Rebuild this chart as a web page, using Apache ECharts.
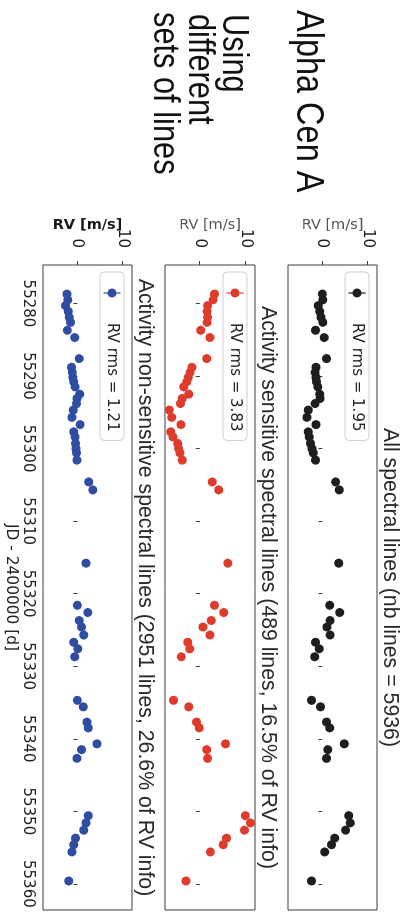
<!DOCTYPE html>
<html>
<head>
<meta charset="utf-8">
<script src="https://cdn.jsdelivr.net/npm/echarts@6/dist/echarts.min.js"></script>
<style>
  html, body { margin: 0; padding: 0; background: #fff; overflow: hidden; width: 406px; height: 921px; }
  /* the figure is laid out landscape and turned a quarter turn clockwise */
  #fig { position: absolute; left: 0; top: 0; width: 921px; height: 406px;
         transform-origin: 0 0; transform: translate(406px, 0) rotate(90deg); }
</style>
</head>
<body>
<div id="fig"></div>
<script>
// Observation epochs, JD - 2400000
const dates = [
  55278.7, 55279.5, 55280.3, 55281.1, 55281.9, 55282.6, 55283.7, 55284.7, 55287.6,
  55288.8, 55289.5, 55290.2, 55290.8, 55291.5, 55292.5, 55293.1, 55293.8, 55294.7,
  55295.7, 55296.7, 55297.7, 55298.4, 55299.3, 55300.0, 55300.6, 55301.6, 55304.6, 55305.7,
  55315.8, 55321.6, 55322.6, 55323.7, 55324.6, 55325.7, 55326.7, 55327.6, 55328.7,
  55334.7, 55335.6, 55337.7, 55338.5, 55340.7, 55341.5, 55342.7,
  55350.6, 55351.6, 55352.6, 55353.7, 55354.6, 55355.6, 55359.6
];

// RV [m/s] from all spectral lines
const rvAllLines = [
  0.0, 0.1, -0.9, -0.6, -0.3, 0.1, -1.5, 0.4, 0.9,
  -1.4, -1.6, -1.4, -1.3, -1.0, -0.6, -0.5, -1.6, -3.1,
  -3.4, -1.4, -3.1, -2.9, -2.6, -2.3, -2.0, -1.5, 2.9, 3.7,
  3.6, 1.6, 3.8, 1.7, 1.0, 1.7, -1.5, -0.7, -1.7,
  -2.4, -0.4, 0.9, 1.6, 4.8, 1.2, 0.9,
  5.8, 6.1, 5.1, 2.7, 2.0, 0.5, -2.4
];

// RV [m/s] from activity sensitive lines
const rvSensitive = [
  3.2, 2.9, 1.7, 1.6, 1.7, 1.6, 0.2, 2.2, 1.5,
  -1.7, -2.1, -2.5, -2.8, -3.5, -2.4, -3.8, -4.2, -6.6,
  -6.1, -4.1, -6.3, -5.8, -4.8, -4.6, -4.3, -3.8, 2.7, 4.1,
  6.1, 3.2, 5.2, 2.5, 0.7, 2.2, -2.6, -2.2, -4.0,
  -5.7, -2.4, -0.7, -0.1, 5.6, 1.5, 1.7,
  9.9, 11.0, 9.7, 5.8, 5.1, 2.3, -3.0
];

// RV [m/s] from activity non-sensitive lines
const rvNonSensitive = [
  -2.3, -2.1, -2.6, -2.0, -1.8, -1.5, -2.2, -0.6, 0.4,
  -1.3, -1.1, -1.0, -0.8, -0.5, 0.5, -0.1, -0.2, -0.9,
  -1.2, 0.6, -0.8, -0.5, -0.4, -0.3, -0.2, -0.1, 2.5, 3.4,
  1.9, 0.0, 2.3, 0.4, 0.9, 1.4, -0.8, 0.1, -0.6,
  0.0, 1.3, 2.1, 2.4, 4.3, 0.9, -0.1,
  2.4, 1.9, 1.4, -0.4, -0.8, -1.2, -1.9
];

const panelTitles = [
  'All spectral lines (nb lines = 5936)',
  'Activity sensitive spectral lines (489 lines, 16.5% of RV info)',
  'Activity non-sensitive spectral lines (2951 lines, 26.6% of RV info)'
];
const rmsLabels = ['RV rms = 1.95', 'RV rms = 3.83', 'RV rms = 1.21'];
const jdTicks = [55280, 55290, 55300, 55310, 55320, 55330, 55340, 55350, 55360];
const rvTicks = [0, 10];
const xLabel = 'JD - 2400000 [d]';
const yLabel = 'RV [m/s]';
const starName = 'Alpha Cen A';
const noteLines = ['Using', 'different', 'sets of lines'];

const seriesValues = [rvAllLines, rvSensitive, rvNonSensitive];
const colors = ['#1e1e1e', '#df3b2b', '#2f4ea3'];

const SANS = '"DejaVu Sans", sans-serif';
const HELV = '"Liberation Sans", Arial, sans-serif';

// panel layout (landscape frame)
const plotLeft = 265, plotWidth = 645;
const panels = [
  { top: 29,  height: 89, titleTop: 6,   legendTop: 37 },
  { top: 151, height: 90, titleTop: 128, legendTop: 159 },
  { top: 274, height: 89, titleTop: 251, legendTop: 282 }
];

// legend handle: marker with a vertical error bar, padded to 40 px wide
const handleIcon = 'path://M0,0h0.01v0.01h-0.01z M39.99,17.99h0.01v0.01h-0.01z ' +
  'M14.4,0.5h1.2v17h-1.2z M10.5,9A4.5,4.5 0 1,1 19.5,9A4.5,4.5 0 1,1 10.5,9z';

// large condensed captions on the left of the figure
const bigText = (text, x, y, size) => ({
  type: 'text', x: x, y: y, scaleX: 0.855, scaleY: 1, silent: true,
  style: { text: text, fontFamily: HELV, fontSize: size, fill: '#111', verticalAlign: 'top', align: 'left' }
});

const chart = echarts.init(document.getElementById('fig'));

const fmtJD = v => String(Math.round(v));

const option = {
  animation: false,
  backgroundColor: '#fff',
  title: panels.map((p, i) => ({
    text: panelTitles[i],
    left: plotLeft + plotWidth / 2,
    top: p.titleTop,
    textAlign: 'center',
    padding: 0,
    textStyle: { fontFamily: HELV, fontSize: 21.3, fontWeight: 'normal', color: '#2a2a2a' }
  })),
  graphic: [
    bigText(starName, 10, 80, 38),
    bigText(noteLines[0], 14, 155, 36),
    bigText(noteLines[1], 14, 189.5, 36),
    bigText(noteLines[2], 12, 224, 36)
  ],
  legend: panels.map((p, i) => ({
    data: [{ name: rmsLabels[i], icon: handleIcon }],
    left: 272, top: p.legendTop,
    orient: 'horizontal',
    itemWidth: 40, itemHeight: 18,
    padding: [3, 9, 3, 6],
    borderColor: '#cfcfcf', borderWidth: 1, borderRadius: 4,
    backgroundColor: 'rgba(255,255,255,0.85)',
    selectedMode: false,
    textStyle: { fontFamily: SANS, fontSize: 15, color: '#222' }
  })),
  grid: panels.map(p => ({
    left: plotLeft, top: p.top, width: plotWidth, height: p.height,
    show: true, borderColor: '#3c3c3c', borderWidth: 1,
    backgroundColor: 'transparent', containLabel: false, outerBoundsMode: 'none'
  })),
  xAxis: panels.map((p, i) => ({
    gridIndex: i, type: 'value', min: 55274.7, max: 55363.6,
    axisLine: { show: false },
    splitLine: { show: false },
    axisTick: { show: true, inside: false, length: 4, customValues: jdTicks, lineStyle: { color: '#3c3c3c', width: 1 } },
    axisLabel: { show: i === 2, customValues: jdTicks, formatter: fmtJD, margin: 8, fontFamily: SANS, fontSize: 15, color: '#222' },
    name: i === 2 ? xLabel : '',
    nameLocation: 'middle', nameGap: 24, nameMoveOverlap: false,
    nameTextStyle: { fontFamily: SANS, fontSize: 15.4, color: '#222' }
  })),
  yAxis: panels.map((p, i) => ({
    gridIndex: i, type: 'value', min: -7.55, max: 12,
    axisLine: { show: false },
    splitLine: { show: false },
    axisTick: { show: true, inside: false, length: 4, customValues: rvTicks, lineStyle: { color: '#3c3c3c', width: 1 } },
    axisLabel: { customValues: rvTicks, formatter: v => String(v), margin: 17, fontFamily: SANS, fontSize: 15, color: '#1a1a1a' },
    name: yLabel, nameLocation: 'middle', nameRotate: 90, nameGap: 32, nameMoveOverlap: false,
    nameTextStyle: {
      fontFamily: SANS, fontSize: 14.5,
      color: i === 2 ? '#1a1a1a' : '#555',
      fontWeight: i === 2 ? 'bold' : 'normal'
    }
  })),
  series: seriesValues.map((vals, i) => ({
    name: rmsLabels[i],
    type: 'scatter',
    xAxisIndex: i, yAxisIndex: i,
    symbol: 'circle', symbolSize: 9,
    itemStyle: { color: colors[i], opacity: 1 },
    data: dates.map((d, k) => [d, vals[k]])
  }))
};

chart.setOption(option);
</script>
</body>
</html>
